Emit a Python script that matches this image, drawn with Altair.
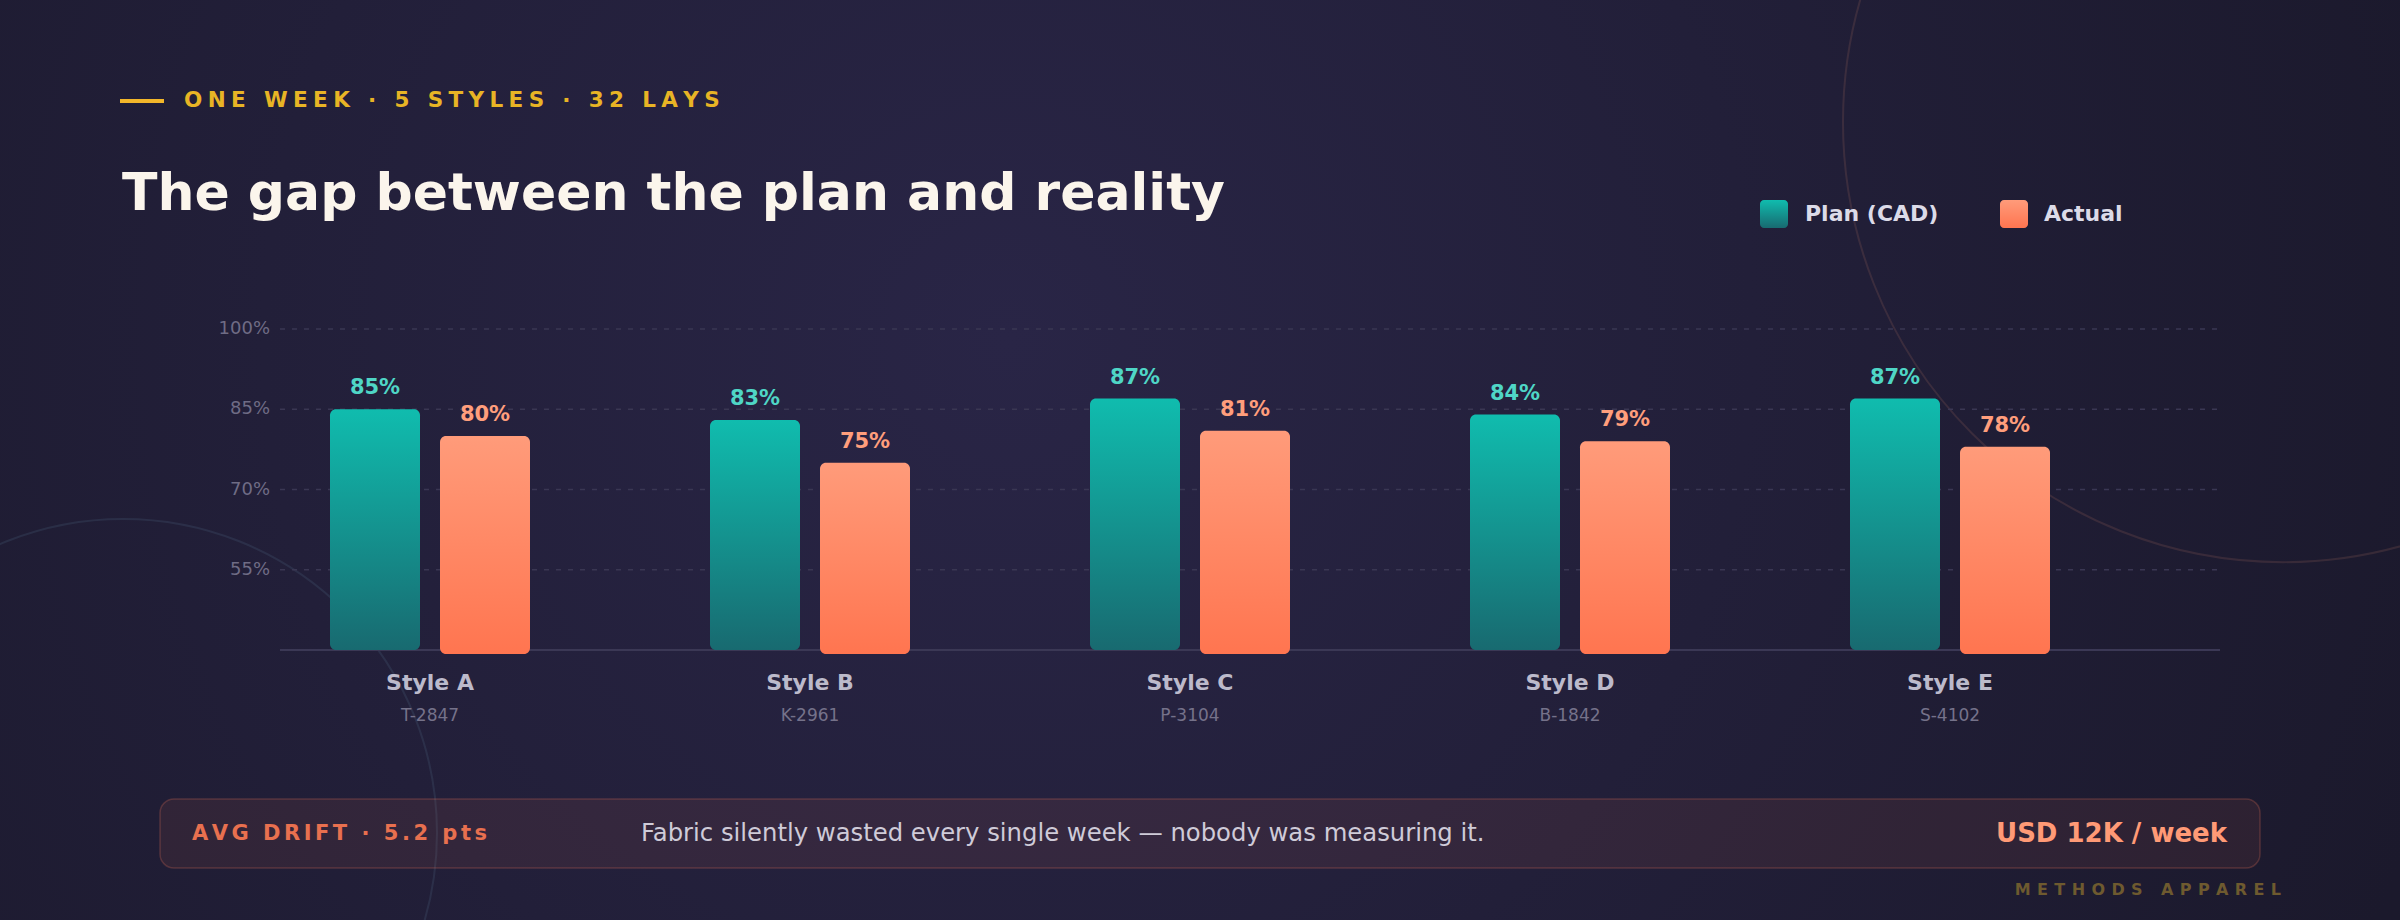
import altair as alt
import pandas as pd

# ---- data -------------------------------------------------------------
styles = ["Style A", "Style B", "Style C", "Style D", "Style E"]
style_codes = ["T-2847", "K-2961", "P-3104", "B-1842", "S-4102"]
plan_pct = [85, 83, 87, 84, 87]
actual_pct = [80, 75, 81, 79, 78]

y_ticks = [55, 70, 85, 100]
y_tick_labels = ["55%", "70%", "85%", "100%"]
Y_DOMAIN = [40, 100]

eyebrow = "ONE WEEK · 5 STYLES · 32 LAYS"
headline = "The gap between the plan and reality"
legend_labels = ["Plan (CAD)", "Actual"]
drift_label = "AVG DRIFT · 5.2 pts"
drift_note = "Fabric silently wasted every single week — nobody was measuring it."
drift_cost = "USD 12K / week"
brand = "METHODS APPAREL"

# ---- styling ----------------------------------------------------------
FONT = "DejaVu Sans"
W, H = 2400, 920
TEAL_TOP, TEAL_BOTTOM = "#10bcae", "#186a70"
CORAL_TOP, CORAL_BOTTOM = "#ff9b7a", "#ff7550"
FOUR_PER_EM = "\u2005"
SIX_PER_EM = "\u2006"
THIN = "\u2009"


def vgrad(top, bottom):
    return alt.LinearGradient(
        gradient="linear",
        stops=[alt.GradientStop(color=top, offset=0), alt.GradientStop(color=bottom, offset=1)],
        x1=0, x2=0, y1=0, y2=1,
    )


def tracked(s, gap=THIN):
    """Widen letter spacing by slipping narrow spaces between characters."""
    return gap.join(s)


def one(text):
    return pd.DataFrame({"t": [text]})


x_scale = alt.Scale(domain=styles, range=[240, 2140], paddingInner=0, paddingOuter=0)
y_scale = alt.Scale(domain=Y_DOMAIN, range=[650, 329], nice=False, zero=False)
X = alt.X("style:N", scale=x_scale, axis=None, sort=styles)

bars = pd.DataFrame({
    "style": styles,
    "code": style_codes,
    "plan": plan_pct,
    "actual": actual_pct,
    "base": [Y_DOMAIN[0]] * len(styles),
})
bars["plan_label"] = bars["plan"].astype(str) + "%"
bars["actual_label"] = bars["actual"].astype(str) + "%"

ticks = pd.DataFrame({"v": y_ticks, "lab": y_tick_labels})

# ---- background -------------------------------------------------------
bg = alt.Chart(one("")).mark_rect(
    color=alt.RadialGradient(
        gradient="radial",
        stops=[alt.GradientStop(color="#292546", offset=0),
               alt.GradientStop(color="#1b192c", offset=1)],
        x1=0.42, y1=0.45, r1=0, x2=0.42, y2=0.45, r2=0.62,
    )
).encode(x=alt.value(0), x2=alt.value(W), y=alt.value(0), y2=alt.value(H))

ring_right = alt.Chart(one("")).mark_point(
    shape="circle", filled=False, size=880 ** 2, color="#8a5a55", opacity=0.25, strokeWidth=2
).encode(x=alt.value(2283), y=alt.value(122))

ring_left = alt.Chart(one("")).mark_point(
    shape="circle", filled=False, size=628 ** 2, color="#4f6a85", opacity=0.22, strokeWidth=2
).encode(x=alt.value(123), y=alt.value(833))

# ---- axes -------------------------------------------------------------
grid = alt.Chart(ticks).mark_rule(color="#3a3753", strokeWidth=1.5, strokeDash=[5, 7]).encode(
    y=alt.Y("v:Q", scale=y_scale, axis=None), x=alt.value(280), x2=alt.value(2218)
)
tick_text = alt.Chart(ticks).mark_text(
    font=FONT, fontSize=18, color="#6f6c85", align="right", baseline="middle"
).encode(y=alt.Y("v:Q", scale=y_scale, axis=None), x=alt.value(270), text="lab:N")

baseline = alt.Chart(bars.head(1)).mark_rule(color="#3b3855", strokeWidth=2).encode(
    y=alt.Y("base:Q", scale=y_scale, axis=None), x=alt.value(280), x2=alt.value(2220)
)

# ---- bars -------------------------------------------------------------
plan_bars = alt.Chart(bars).mark_bar(
    width=90, xOffset=-55, cornerRadius=6, color=vgrad(TEAL_TOP, TEAL_BOTTOM)
).encode(x=X, y=alt.Y("plan:Q", scale=y_scale, axis=None), y2="base:Q")

actual_bars = alt.Chart(bars).mark_bar(
    width=90, xOffset=55, cornerRadius=6, y2Offset=4, color=vgrad(CORAL_TOP, CORAL_BOTTOM)
).encode(x=X, y=alt.Y("actual:Q", scale=y_scale, axis=None), y2="base:Q")

plan_text = alt.Chart(bars).mark_text(
    font=FONT, fontSize=21, fontWeight="bold", color="#4fd6c6", xOffset=-55, dy=-15, baseline="alphabetic"
).encode(x=X, y=alt.Y("plan:Q", scale=y_scale, axis=None), text="plan_label:N")

actual_text = alt.Chart(bars).mark_text(
    font=FONT, fontSize=21, fontWeight="bold", color="#ff9e7c", xOffset=55, dy=-15, baseline="alphabetic"
).encode(x=X, y=alt.Y("actual:Q", scale=y_scale, axis=None), text="actual_label:N")

cat_text = alt.Chart(bars).mark_text(
    font=FONT, fontSize=22, fontWeight="bold", color="#bcbacb", baseline="middle"
).encode(x=X, y=alt.value(683), text="style:N")

code_text = alt.Chart(bars).mark_text(
    font=FONT, fontSize=17, color="#75728a", baseline="middle"
).encode(x=X, y=alt.value(716), text="code:N")

# ---- header -----------------------------------------------------------
eyebrow_rule = alt.Chart(one("")).mark_rule(color="#f2b62a", strokeWidth=4).encode(
    x=alt.value(120), x2=alt.value(164), y=alt.value(101)
)
eyebrow_text = alt.Chart(one(tracked(eyebrow, FOUR_PER_EM))).mark_text(
    font=FONT, fontSize=21.5, fontWeight="bold", color="#e8b425", align="left", baseline="middle"
).encode(x=alt.value(184), y=alt.value(101), text="t:N")

title_text = alt.Chart(one(headline)).mark_text(
    font=FONT, fontSize=52, fontWeight="bold", color="#fbf5ec", align="left", baseline="alphabetic"
).encode(x=alt.value(122), y=alt.value(210), text="t:N")

# ---- legend -----------------------------------------------------------
leg_plan_sw = alt.Chart(one("")).mark_rect(cornerRadius=4, color=vgrad(TEAL_TOP, TEAL_BOTTOM)).encode(
    x=alt.value(1760), x2=alt.value(1788), y=alt.value(200), y2=alt.value(228)
)
leg_act_sw = alt.Chart(one("")).mark_rect(cornerRadius=4, color=vgrad(CORAL_TOP, CORAL_BOTTOM)).encode(
    x=alt.value(2000), x2=alt.value(2028), y=alt.value(200), y2=alt.value(228)
)
leg_plan_tx = alt.Chart(one(legend_labels[0])).mark_text(
    font=FONT, fontSize=22, fontWeight="bold", color="#dcdbe8", align="left", baseline="middle"
).encode(x=alt.value(1805), y=alt.value(214), text="t:N")
leg_act_tx = alt.Chart(one(legend_labels[1])).mark_text(
    font=FONT, fontSize=22, fontWeight="bold", color="#dcdbe8", align="left", baseline="middle"
).encode(x=alt.value(2044), y=alt.value(214), text="t:N")

# ---- callout banner ---------------------------------------------------
banner = alt.Chart(one("")).mark_rect(
    cornerRadius=14, fill="#ff7a59", fillOpacity=0.08, stroke="#ff7a59", strokeOpacity=0.22, strokeWidth=1.5
).encode(x=alt.value(160), x2=alt.value(2260), y=alt.value(799), y2=alt.value(868))

drift_text = alt.Chart(one(tracked(drift_label, SIX_PER_EM))).mark_text(
    font=FONT, fontSize=21, fontWeight="bold", color="#e8704f", align="left", baseline="middle"
).encode(x=alt.value(192), y=alt.value(834), text="t:N")

note_text = alt.Chart(one(drift_note)).mark_text(
    font=FONT, fontSize=24.3, color="#cfcbd8", align="left", baseline="middle"
).encode(x=alt.value(641), y=alt.value(834), text="t:N")

cost_text = alt.Chart(one(drift_cost)).mark_text(
    font=FONT, fontSize=26, fontWeight="bold", color="#ff9a76", align="right", baseline="middle"
).encode(x=alt.value(2227), y=alt.value(834), text="t:N")

brand_text = alt.Chart(one(tracked(brand, THIN + THIN))).mark_text(
    font=FONT, fontSize=16, fontWeight="bold", color="#6e5a2f", align="right", baseline="middle"
).encode(x=alt.value(2281), y=alt.value(890), text="t:N")

chart = alt.layer(
    bg, ring_right, ring_left,
    grid, tick_text, baseline,
    plan_bars, actual_bars, plan_text, actual_text, cat_text, code_text,
    eyebrow_rule, eyebrow_text, title_text,
    leg_plan_sw, leg_act_sw, leg_plan_tx, leg_act_tx,
    banner, drift_text, note_text, cost_text, brand_text,
).properties(
    width=W, height=H, padding=0, autosize="none", background="#1b192c"
).configure_view(stroke=None)

chart.save("out.html", embed_options={"renderer": "svg", "actions": False})
